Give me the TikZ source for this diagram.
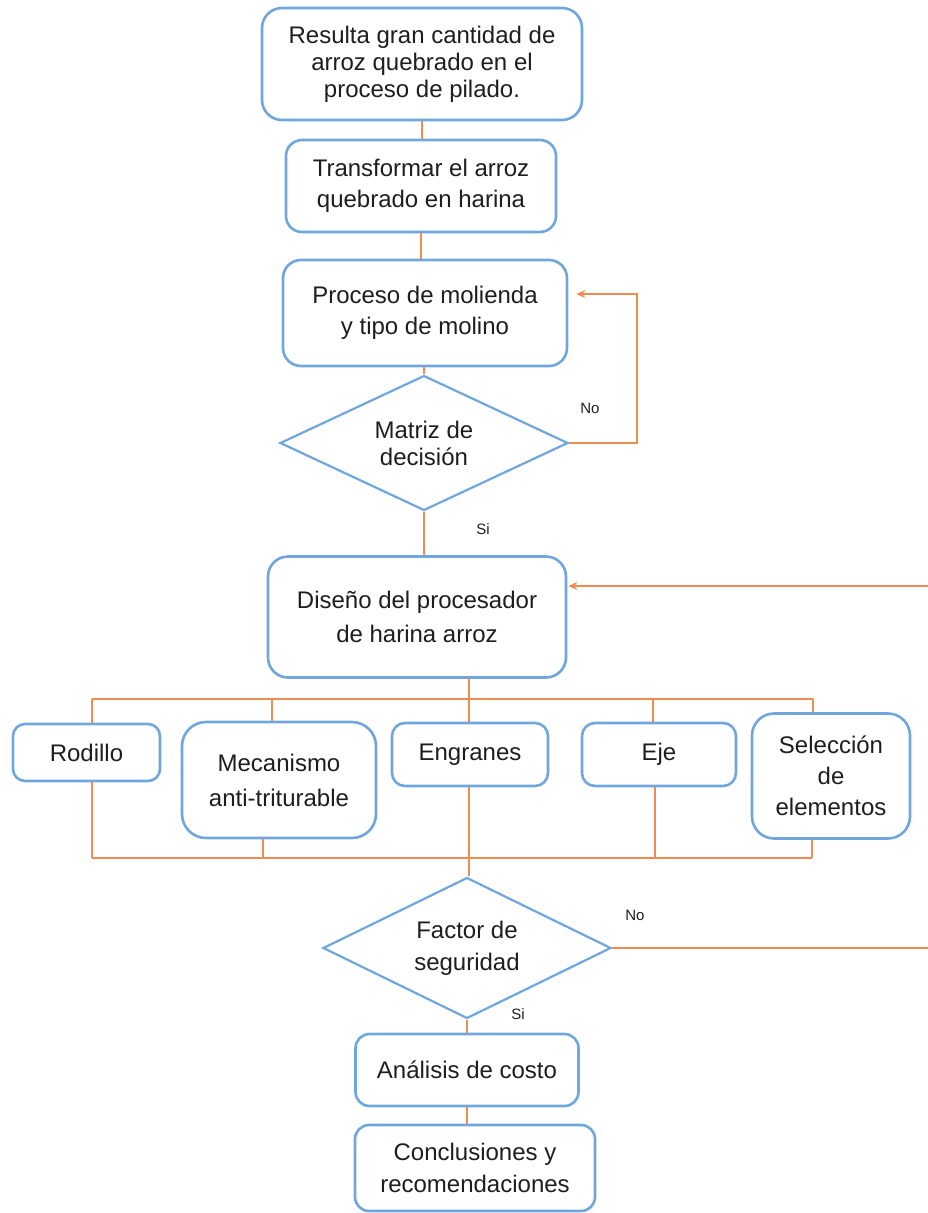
\documentclass[tikz,border=0pt]{standalone}
\usepackage{fontspec}
\setmainfont{Liberation Sans}
\usetikzlibrary{shapes.geometric,arrows.meta,calc}
\definecolor{boxblue}{RGB}{112,166,222}
\definecolor{lineorange}{RGB}{240,140,80}
\definecolor{txt}{RGB}{30,30,30}
\tikzset{
  box/.style={draw=boxblue, line width=2.6pt, rounded corners=16pt, fill=white, align=center, inner sep=0pt, text=txt},
  dia/.style={draw=boxblue, line width=2.2pt, diamond, aspect=2.1, inner sep=0pt, align=center, text=txt},
  link/.style={draw=lineorange, line width=2.4pt},
  tip/.style={-{Stealth[length=9pt,width=8pt]}},
  lbl/.style={font=\fontsize{15}{18}\selectfont, text=txt, inner sep=0pt}
}
\newcommand{\fs}[1]{\fontsize{24}{#1}\selectfont}
\begin{document}
\begin{tikzpicture}[x=1pt,y=-1pt]
\useasboundingbox (0,0) rectangle (927,1213);

% main column
\node[box, rounded corners=20pt, minimum width=320, minimum height=112, font=\fs{27}] (b1) at (422,64)
  {Resulta gran cantidad de\\arroz quebrado en el\\proceso de pilado.};
\node[box, minimum width=270, minimum height=92, font=\fs{31}] (b2) at (421,186)
  {Transformar el arroz\\quebrado en harina};
\node[box, rounded corners=18pt, minimum width=284, minimum height=106, font=\fs{31}] (b3) at (425,313)
  {Proceso de molienda\\y tipo de molino};
\node[dia, minimum width=288, minimum height=135, font=\fs{27}] (d1) at (424,443)
  {Matriz de\\decisión};
\node[box, rounded corners=20pt, minimum width=298, minimum height=121, font=\fs{34}] (b4) at (417,617)
  {Diseño del procesador\\de harina arroz};

% row of components
\node[box, rounded corners=12pt, minimum width=147, minimum height=57, font=\fs{28}] (r1) at (86.5,752.5) {Rodillo};
\node[box, rounded corners=24pt, minimum width=194, minimum height=116, font=\fs{35}] (r2) at (279,780)
  {Mecanismo\\anti-triturable};
\node[box, rounded corners=13pt, minimum width=156, minimum height=63, font=\fs{28}] (r3) at (470,754.5) {Engranes};
\node[box, rounded corners=13pt, minimum width=154, minimum height=63, font=\fs{28}] (r4) at (659,754.5) {Eje};
\node[box, rounded corners=22pt, minimum width=158, minimum height=125, font=\fs{31}] (r5) at (831,776)
  {Selección\\de\\elementos};

% lower column
\node[dia, minimum width=288, minimum height=141, font=\fs{32}] (d2) at (467,948)
  {Factor de\\seguridad};
\node[box, rounded corners=14pt, minimum width=223, minimum height=72, font=\fs{28}] (b5) at (467,1070) {Análisis de costo};
\node[box, rounded corners=14pt, minimum width=240, minimum height=86, font=\fs{32}] (b6) at (475,1168)
  {Conclusiones y\\recomendaciones};

% labels
\node[lbl] (no1) at (590,408) {No};
\node[lbl] (si1) at (483,529) {Si};
\node[lbl] (no2) at (635,915) {No};
\node[lbl] (si2) at (518,1014) {Si};

% coordinates
\coordinate (nr) at (637,443);
\coordinate (far) at (935,948);
\coordinate (j1) at (469,678);
\coordinate (t1) at (92,699);
\coordinate (t2) at (272,699);
\coordinate (t4) at (653,699);
\coordinate (t5) at (813,699);
\coordinate (u1) at (92,858);
\coordinate (u2) at (263,858);
\coordinate (u4) at (655,858);
\coordinate (u5) at (812,858);

% connectors
\draw[link] (b1.south) -- (b1.south |- b2.north);
\draw[link] (b2.south) -- (b2.south |- b3.north);
\draw[link] (d1.north |- b3.south) -- (d1.north);
\draw[link, tip] (d1.east) -- (nr) |- ([yshift=19pt,xshift=8pt]b3.east);
\draw[link] (d1.south) -- (d1.south |- b4.north);
\draw[link, tip] (d2.east) -- (far) |- ([yshift=31pt,xshift=1pt]b4.east);

\draw[link] (j1) -- (j1 |- r3.north);
\draw[link] (t1) -- (t5);
\draw[link] (t1) -- (t1 |- r1.north);
\draw[link] (t2) -- (t2 |- r2.north);
\draw[link] (t4) -- (t4 |- r4.north);
\draw[link] (t5) -- (t5 |- r5.north);

\draw[link] (u1) -- (u5);
\draw[link] (u1) -- (u1 |- r1.south);
\draw[link] (u2) -- (u2 |- r2.south);
\draw[link] (u4) -- (u4 |- r4.south);
\draw[link] (u5) -- (u5 |- r5.south);
\draw[link] (j1 |- r3.south) -- (j1 |- d2.north);

\draw[link] (d2.south) -- (b5.north -| d2.south);
\draw[link] (b5.south) -- (b6.north -| b5.south);
\end{tikzpicture}
\end{document}
